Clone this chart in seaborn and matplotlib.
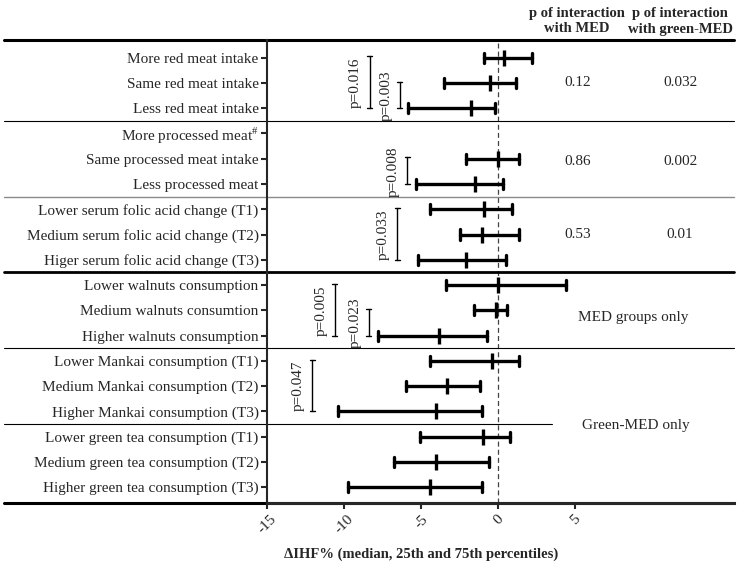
import pandas as pd
import numpy as np
import matplotlib
matplotlib.use("Agg")
import matplotlib.pyplot as plt
import matplotlib.transforms as mtransforms
import seaborn as sns

# ---- data ----
labels = [
    "More red meat intake", "Same red meat intake", "Less red meat intake",
    "More processed meat$^{\\#}$", "Same processed meat intake", "Less processed meat",
    "Lower serum folic acid change (T1)", "Medium serum folic acid change (T2)",
    "Higer serum folic acid change (T3)",
    "Lower walnuts consumption", "Medium walnuts consumtion", "Higher walnuts consumption",
    "Lower Mankai consumption (T1)", "Medium Mankai consumption (T2)",
    "Higher Mankai consumption (T3)",
    "Lower green tea consumption (T1)", "Medium green tea consumption (T2)",
    "Higher green tea consumption (T3)",
]
# 25th percentile, median, 75th percentile (NaN = not reported)
p25 = [-0.93, -3.50, -5.84, np.nan, -2.12, -5.34, -4.42, -2.50, -5.23,
       -3.40, -1.56, -7.77, -4.45, -6.01, -10.36, -5.06, -6.73, -9.74]
median = [0.39, -0.52, -1.77, np.nan, 0.00, -1.53, -0.93, -1.04, -2.12,
          0.00, -0.17, -3.85, -0.43, -3.33, -4.03, -1.01, -4.03, -4.43]
p75 = [2.17, 1.17, -0.21, np.nan, 1.32, 0.32, 0.91, 1.32, 0.48,
       4.37, 0.58, -0.71, 1.32, -1.17, -1.04, 0.74, -0.58, -1.04]

# p for interaction columns (row where the value sits)
inter_rows = [1, 4.1, 7]
inter_med = ["0.12", "0.86", "0.53"]
inter_green = ["0.032", "0.002", "0.01"]

# within-group comparison brackets: (first row, last row, x position, label)
bracket_from = [0, 1, 4, 6, 9, 10, 12]
bracket_to = [2, 2, 5, 8, 11, 11, 14]
bracket_x = [-8.34, -6.38, -5.9, -6.55, -10.6, -8.4, -12.06]
bracket_txt = ["p=0.016", "p=0.003", "p=0.008", "p=0.033", "p=0.005", "p=0.023", "p=0.047"]

xticks = [-15, -10, -5, 0, 5]
xtick_labels = ["-15", "-10", "-5", "0", "5"]

# long form: three values per row, median estimator + min/max interval
rows = []
for lab, a, b, c in zip(labels, p25, median, p75):
    for v in (a, b, c):
        if not np.isnan(v):
            rows.append({"label": lab, "value": v})
df = pd.DataFrame(rows)

sns.set_style("ticks")
plt.rcParams["font.family"] = ["Liberation Serif", "DejaVu Serif"]
plt.rcParams["mathtext.fontset"] = "custom"
plt.rcParams["mathtext.rm"] = "Liberation Serif"

fig = plt.figure(figsize=(7.47, 5.72), dpi=100)
ax = fig.add_axes([0.3574, 0.1206, 0.6252, 0.8094])

sns.pointplot(data=df, x="value", y="label", order=labels, orient="h",
              estimator="median", errorbar=lambda v: (v.min(), v.max()),
              color="black", markers="|", linestyles="none", capsize=0.4,
              err_kws={"linewidth": 2.4}, markersize=11, markeredgewidth=2.4,
              ax=ax)

XMIN, XMAX = -15, 15.3
YTOP, YBOT = -0.70, 17.63
ax.set_xlim(XMIN, XMAX)
ax.set_ylim(YBOT, YTOP)

ax.axvline(0, color="#444444", lw=0.9, ls=(0, (4, 2.5)), zorder=0)

# table rules
trans = mtransforms.blended_transform_factory(ax.transAxes, ax.transData)
left = -0.563
ax.plot([left, 1], [YTOP, YTOP], transform=trans, color="black", lw=2.2, clip_on=False)
ax.plot([left, 1], [YBOT, YBOT], transform=trans, color="black", lw=2.2, clip_on=False)
ax.plot([left, 1], [8.5, 8.5], transform=trans, color="black", lw=2.0, clip_on=False)
ax.plot([left, 1], [2.5, 2.5], transform=trans, color="black", lw=0.8, clip_on=False)
ax.plot([left, 1], [5.5, 5.5], transform=trans, color="#8a8a8a", lw=1.0, clip_on=False)
ax.plot([left, 1], [11.5, 11.5], transform=trans, color="black", lw=0.8, clip_on=False)
green_end = (3.5 - XMIN) / (XMAX - XMIN)
ax.plot([left, green_end], [14.5, 14.5], transform=trans, color="black", lw=0.8, clip_on=False)

# brackets
cap = 0.17
for a, b, x, t in zip(bracket_from, bracket_to, bracket_x, bracket_txt):
    ax.plot([x, x], [a - 0.05, b], color="black", lw=1.0)
    ax.plot([x - cap, x + cap], [a - 0.05, a - 0.05], color="black", lw=1.0)
    ax.plot([x - cap, x + cap], [b, b], color="black", lw=1.0)
    ax.text(x - 0.9, (a + b) / 2, t, rotation=90, ha="center", va="center", fontsize=11)

# interaction p values
for r, m, g in zip(inter_rows, inter_med, inter_green):
    ax.text(5.13, r, m, ha="center", va="center", fontsize=11)
    ax.text(11.8, r, g, ha="center", va="center", fontsize=11)

ax.text(5.2, 10.3, "MED groups only", ha="left", va="center", fontsize=11)
ax.text(5.45, 14.55, "Green-MED only", ha="left", va="center", fontsize=11)

# headers
fig.text(577 / 747, 1 - 21 / 572, "p of interaction\nwith MED", ha="center", va="center",
         fontsize=10.5, fontweight="bold", linespacing=1.3)
fig.text(680 / 747, 1 - 21 / 572, "p of interaction\nwith green-MED", ha="center", va="center",
         fontsize=10.5, fontweight="bold", linespacing=1.3)

# axes styling
for s in ["top", "right"]:
    ax.spines[s].set_visible(False)
ax.spines["left"].set_linewidth(1.5)
ax.spines["bottom"].set_linewidth(2.2)
ax.set_xticks(xticks)
ax.set_xticklabels(xtick_labels, rotation=45, ha="center", fontsize=11)
ax.tick_params(axis="x", length=4, width=1.5, pad=3)
ax.tick_params(axis="y", length=4, width=1.5, pad=2, labelsize=11)
ax.set_ylabel("")
ax.set_xlabel("ΔIHF% (median, 25th and 75th percentiles)", fontsize=10.5, fontweight="bold")
ax.xaxis.set_label_coords(0.33, -0.097)

fig.savefig("out.png", dpi=100)
